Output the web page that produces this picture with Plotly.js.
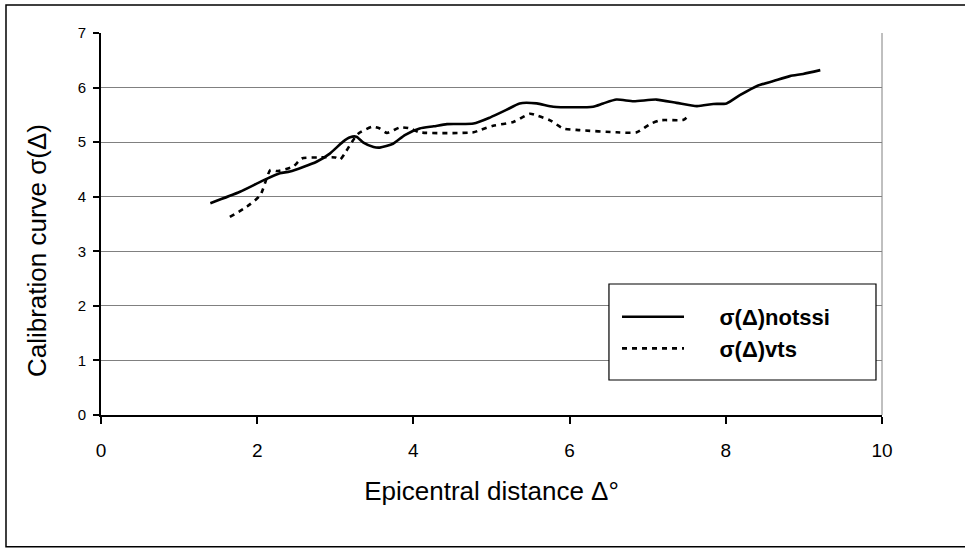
<!DOCTYPE html>
<html>
<head>
<meta charset="utf-8">
<script src="https://cdn.plot.ly/plotly-3.0.1.min.js"></script>
<style>html,body{margin:0;padding:0;background:#fff}#chart{width:965px;height:548px}</style>
</head>
<body>
<div id="chart"></div>
<script>
// Calibration curve sigma(Delta) vs epicentral distance
const notssiX = [1.40,1.78,2.08,2.29,2.42,2.76,2.93,3.10,3.19,3.27,3.36,3.49,3.57,3.74,3.89,4.08,4.26,4.43,4.77,4.98,5.19,5.36,5.58,5.79,6.30,6.43,6.60,6.82,7.11,7.37,7.63,7.84,8.01,8.18,8.40,8.61,8.82,8.99,9.21];
const notssiY = [3.88,4.09,4.30,4.43,4.46,4.64,4.79,5.01,5.09,5.10,4.99,4.91,4.90,4.97,5.13,5.25,5.29,5.33,5.34,5.45,5.59,5.71,5.71,5.65,5.65,5.71,5.78,5.75,5.78,5.72,5.66,5.70,5.71,5.86,6.03,6.12,6.21,6.25,6.32];
const vtsX = [1.65,1.87,2.04,2.17,2.25,2.46,2.57,2.78,3.00,3.06,3.12,3.19,3.29,3.47,3.57,3.66,3.83,3.96,4.08,4.77,4.85,5.02,5.28,5.49,5.58,5.75,5.92,6.13,6.60,6.86,7.03,7.16,7.46,7.52];
const vtsY = [3.63,3.82,4.03,4.49,4.47,4.55,4.70,4.72,4.72,4.68,4.79,4.95,5.15,5.28,5.25,5.17,5.27,5.25,5.18,5.18,5.22,5.30,5.37,5.52,5.49,5.40,5.25,5.22,5.18,5.18,5.33,5.40,5.41,5.48];
const seriesNames = ['σ(Δ)notssi', 'σ(Δ)vts'];
const xTitle = 'Epicentral distance Δ°';
const yTitle = 'Calibration curve σ(Δ)';

const pad = '\u00A0\u00A0\u00A0\u00A0\u00A0';
const traces = [
  {x: notssiX, y: notssiY, name: pad + seriesNames[0], type: 'scatter', mode: 'lines',
   line: {color: '#000', width: 2.6, shape: 'spline', smoothing: 0.6}},
  {x: vtsX, y: vtsY, name: pad + seriesNames[1], type: 'scatter', mode: 'lines',
   line: {color: '#000', width: 2.6, dash: '5px,5px', shape: 'spline', smoothing: 0.6}}
];

const layout = {
  width: 965, height: 548,
  margin: {l: 101, r: 83, t: 33, b: 133},
  paper_bgcolor: '#fff', plot_bgcolor: '#fff',
  font: {family: 'Liberation Sans, Arial, sans-serif', color: '#000'},
  showlegend: true,
  legend: {x: 0.6607, y: 0.3115, xanchor: 'left', yanchor: 'top',
    borderwidth: 0, bgcolor: 'rgba(0,0,0,0)',
    font: {size: 22, family: 'Liberation Sans, Arial, sans-serif', weight: 'bold'},
    itemwidth: 62, traceorder: 'normal'},
  xaxis: {range: [0, 10], dtick: 2, tick0: 0, showgrid: false, zeroline: false,
    showline: true, linecolor: '#000', linewidth: 2,
    ticks: 'outside', ticklen: 7, tickwidth: 2, tickcolor: '#000',
    tickfont: {size: 19}, ticklabelstandoff: 10,
    title: {text: xTitle, font: {size: 26}, standoff: 22}},
  yaxis: {range: [0, 7], dtick: 1, tick0: 0, showgrid: true, gridcolor: '#808080', gridwidth: 1,
    zeroline: false, showline: true, linecolor: '#000', linewidth: 2,
    ticks: 'outside', ticklen: 6, tickwidth: 2, tickcolor: '#000',
    tickfont: {size: 15}, ticklabelstandoff: 4},
  annotations: [
    {text: yTitle, xref: 'paper', yref: 'paper', x: -0.0819, y: 0.4293,
     xanchor: 'center', yanchor: 'middle', textangle: -90, showarrow: false,
     font: {size: 26, family: 'Liberation Sans, Arial, sans-serif', color: '#000'}}
  ],
  shapes: [
    {type: 'line', xref: 'paper', yref: 'paper', x0: 1, x1: 1, y0: 0, y1: 1,
     line: {color: '#808080', width: 1}},
    {type: 'rect', xref: 'paper', yref: 'paper', x0: 0.6504, x1: 0.9923, y0: 0.0916, y1: 0.3429,
     line: {color: '#000', width: 1.2}, fillcolor: '#fff', layer: 'above'},
    {type: 'rect', xref: 'paper', yref: 'paper', x0: -0.12164, x1: 1.12, y0: -0.345, y1: 1.0733,
     line: {color: '#000', width: 1.5}, fillcolor: 'rgba(0,0,0,0)', layer: 'below'}
  ]
};

Plotly.newPlot('chart', traces, layout, {displayModeBar: false, staticPlot: true});
</script>
</body>
</html>
